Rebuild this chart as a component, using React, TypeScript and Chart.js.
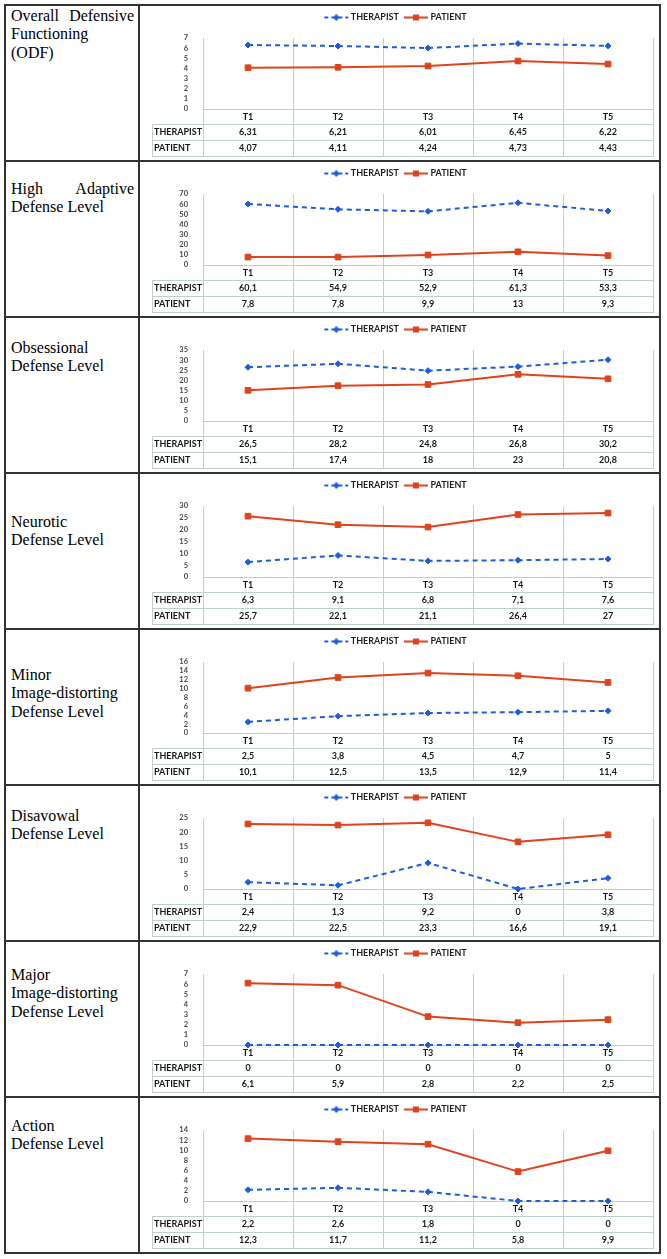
import React, { useEffect, useRef } from 'react';
import { Chart, registerables } from 'chart.js';

Chart.register(...registerables);

// ---------- data ----------
const timepoints = ['T1', 'T2', 'T3', 'T4', 'T5'];
const seriesNames = ['THERAPIST', 'PATIENT'];

const odfTherapist = [6.31, 6.21, 6.01, 6.45, 6.22];
const odfPatient = [4.07, 4.11, 4.24, 4.73, 4.43];
const highAdaptiveTherapist = [60.1, 54.9, 52.9, 61.3, 53.3];
const highAdaptivePatient = [7.8, 7.8, 9.9, 13, 9.3];
const obsessionalTherapist = [26.5, 28.2, 24.8, 26.8, 30.2];
const obsessionalPatient = [15.1, 17.4, 18, 23, 20.8];
const neuroticTherapist = [6.3, 9.1, 6.8, 7.1, 7.6];
const neuroticPatient = [25.7, 22.1, 21.1, 26.4, 27];
const minorTherapist = [2.5, 3.8, 4.5, 4.7, 5];
const minorPatient = [10.1, 12.5, 13.5, 12.9, 11.4];
const disavowalTherapist = [2.4, 1.3, 9.2, 0, 3.8];
const disavowalPatient = [22.9, 22.5, 23.3, 16.6, 19.1];
const majorTherapist = [0, 0, 0, 0, 0];
const majorPatient = [6.1, 5.9, 2.8, 2.2, 2.5];
const actionTherapist = [2.2, 2.6, 1.8, 0, 0];
const actionPatient = [12.3, 11.7, 11.2, 5.8, 9.9];

const therapistSeries = [
  odfTherapist, highAdaptiveTherapist, obsessionalTherapist, neuroticTherapist,
  minorTherapist, disavowalTherapist, majorTherapist, actionTherapist,
];
const patientSeries = [
  odfPatient, highAdaptivePatient, obsessionalPatient, neuroticPatient,
  minorPatient, disavowalPatient, majorPatient, actionPatient,
];

const axisMax = [7, 70, 35, 30, 16, 25, 7, 14];
const axisStep = [1, 10, 5, 5, 2, 5, 1, 2];

const rowLabels = [
  ['Overall Defensive Functioning (ODF)'],
  ['High Adaptive Defense Level'],
  ['Obsessional', 'Defense Level'],
  ['Neurotic', 'Defense Level'],
  ['Minor', 'Image-distorting', 'Defense Level'],
  ['Disavowal', 'Defense Level'],
  ['Major', 'Image-distorting', 'Defense Level'],
  ['Action', 'Defense Level'],
];

// ---------- layout / style ----------
const ROW_H = 156;
const TOP = 4;
const LABEL_TOP = [3, 20, 23, 41, 38, 23, 26, 21];
const BLUE = '#1d5ce0';
const RED = '#df431c';
const GRID = '#bfd0c8';
const TEXT = '#161616';
const FONT = 'Lato, "Open Sans", sans-serif';
const BORDER = '#333333';

const fmt = (v: number) => String(v).replace('.', ',');

function makeIcon(color: string, dashed: boolean, diamond: boolean) {
  const c = document.createElement('canvas');
  c.width = 26;
  c.height = 10;
  const g = c.getContext('2d')!;
  g.strokeStyle = color;
  g.lineWidth = 2;
  if (dashed) g.setLineDash([4, 3]);
  g.beginPath();
  g.moveTo(1, 5);
  g.lineTo(25, 5);
  g.stroke();
  g.setLineDash([]);
  g.fillStyle = color;
  if (diamond) {
    g.beginPath();
    g.moveTo(13, 1.5);
    g.lineTo(16.5, 5);
    g.lineTo(13, 8.5);
    g.lineTo(9.5, 5);
    g.closePath();
    g.fill();
  } else {
    g.fillRect(10, 2, 6, 6);
  }
  return c;
}

const alignPx = (p: number) => Math.round(p - 0.5) + 0.5;

const tablePlugin = {
  id: 'dataTable',
  afterInit(chart: any) {
    const lg = chart.legend;
    if (!lg) return;
    const orig = lg.fit.bind(lg);
    lg.fit = () => {
      orig();
      lg.height = 32;
    };
  },
  beforeDatasetsDraw(chart: any) {
    const { ctx, chartArea, scales } = chart;
    const x = scales.x;
    const n = chart.data.labels.length;
    const y0 = chartArea.bottom;
    const r1 = y0 + 15;
    const r2 = r1 + 16;
    const r3 = r2 + 16;
    const tableLeft = 12;
    ctx.save();
    ctx.strokeStyle = GRID;
    ctx.lineWidth = 1;
    ctx.beginPath();
    for (let i = 0; i <= n; i++) {
      const px = alignPx(x.getPixelForValue(i - 0.5));
      ctx.moveTo(px, y0);
      ctx.lineTo(px, r3 + 0.5);
    }
    [r1, r2, r3].forEach((yy) => {
      ctx.moveTo(tableLeft, yy + 0.5);
      ctx.lineTo(alignPx(chartArea.right) + 0.5, yy + 0.5);
    });
    ctx.moveTo(tableLeft + 0.5, r1);
    ctx.lineTo(tableLeft + 0.5, r3 + 0.5);
    ctx.stroke();

    ctx.font = `bold 9px ${FONT}`;
    ctx.fillStyle = TEXT;
    ctx.textBaseline = 'middle';
    chart.data.datasets.forEach((ds: any, di: number) => {
      const cy = (di === 0 ? r1 : r2) + 8.5;
      ctx.textAlign = 'left';
      ctx.fillText(ds.label, tableLeft + 2, cy);
      ctx.textAlign = 'center';
      ds.data.forEach((v: number, i: number) => {
        ctx.fillText(fmt(v), x.getPixelForValue(i), cy);
      });
    });
    ctx.restore();
  },
};

function RowChart({ index }: { index: number }) {
  const ref = useRef<HTMLCanvasElement>(null);
  useEffect(() => {
    if (!ref.current) return;
    const icons = [makeIcon(BLUE, true, true), makeIcon(RED, false, false)];
    const chart = new Chart(ref.current, {
      type: 'line',
      data: {
        labels: timepoints,
        datasets: [
          {
            label: seriesNames[0],
            data: therapistSeries[index],
            borderColor: BLUE,
            backgroundColor: BLUE,
            borderWidth: 2,
            borderDash: [5, 4],
            pointStyle: 'rectRot',
            pointRadius: 3,
            pointBorderWidth: 1,
            pointBackgroundColor: BLUE,
            pointBorderColor: BLUE,
            tension: 0,
            clip: false,
          },
          {
            label: seriesNames[1],
            data: patientSeries[index],
            borderColor: RED,
            backgroundColor: RED,
            borderWidth: 2,
            pointStyle: 'rect',
            pointRadius: 4,
            pointBorderWidth: 1,
            pointBackgroundColor: RED,
            pointBorderColor: RED,
            tension: 0,
            clip: false,
          },
        ],
      },
      options: {
        responsive: false,
        animation: false,
        events: [],
        layout: { padding: { top: 0, left: 0, right: 6, bottom: 4 } },
        plugins: {
          tooltip: { enabled: false },
          legend: {
            display: true,
            position: 'top',
            labels: {
              usePointStyle: true,
              pointStyleWidth: 20,
              padding: 7,
              color: '#1e1e1e',
              font: { family: FONT, size: 9, weight: 'bold' },
              generateLabels: (c: any) =>
                c.data.datasets.map((ds: any, i: number) => ({
                  text: ds.label,
                  pointStyle: icons[i],
                  fillStyle: ds.borderColor,
                  strokeStyle: ds.borderColor,
                  lineWidth: 0,
                  hidden: false,
                  datasetIndex: i,
                  fontColor: '#1e1e1e',
                })),
            },
          },
        },
        scales: {
          x: {
            type: 'category',
            offset: true,
            grid: { display: true, offset: true, color: GRID, drawTicks: false, lineWidth: 1 },
            border: { display: true, color: GRID, width: 1 },
            ticks: { color: TEXT, padding: 3, font: { family: FONT, size: 9, weight: 'bold' } },
            afterFit: (s: any) => {
              s.height = 47;
            },
          },
          y: {
            min: 0,
            max: axisMax[index],
            grid: { display: false },
            border: { display: true, color: GRID, width: 1 },
            ticks: {
              stepSize: axisStep[index],
              autoSkip: false,
              color: '#474747',
              padding: 7,
              font: { family: FONT, size: 7.5, weight: 'bold' },
            },
            afterFit: (s: any) => {
              s.width = 63;
            },
          },
        },
      },
      plugins: [tablePlugin],
    } as any);
    return () => chart.destroy();
  }, [index]);
  return (
    <canvas
      ref={ref}
      width={519}
      height={154}
      style={{ position: 'absolute', left: 140, top: TOP + 2 + ROW_H * index, width: 519, height: 154 }}
    />
  );
}

export default function App() {
  const rows = rowLabels.map((_, i) => i);
  return (
    <div style={{ position: 'absolute', left: 0, top: 0, width: 667, height: 1259, background: '#fff' }}>
      {/* vertical rules */}
      {[4, 138, 659].map((x) => (
        <div key={'v' + x} style={{ position: 'absolute', left: x, top: TOP, width: 2, height: ROW_H * 8 + 2, background: BORDER }} />
      ))}
      {/* horizontal rules */}
      {Array.from({ length: 9 }, (_, i) => (
        <div key={'h' + i} style={{ position: 'absolute', left: 4, top: TOP + ROW_H * i, width: 657, height: 2, background: BORDER }} />
      ))}
      {rows.map((i) => (
        <div
          key={'l' + i}
          style={{
            position: 'absolute',
            left: 11,
            top: TOP + ROW_H * i + LABEL_TOP[i],
            width: 123,
            fontFamily: '"Liberation Serif", "Times New Roman", serif',
            fontSize: 16,
            lineHeight: '18.4px',
            color: '#000',
            textAlign: rowLabels[i].length === 1 ? 'justify' : 'left',
          }}
        >
          {rowLabels[i].map((line, k) => (
            <div key={k} style={{ whiteSpace: rowLabels[i].length === 1 ? 'normal' : 'nowrap' }}>{line}</div>
          ))}
        </div>
      ))}
      {rows.map((i) => (
        <RowChart key={'c' + i} index={i} />
      ))}
    </div>
  );
}
